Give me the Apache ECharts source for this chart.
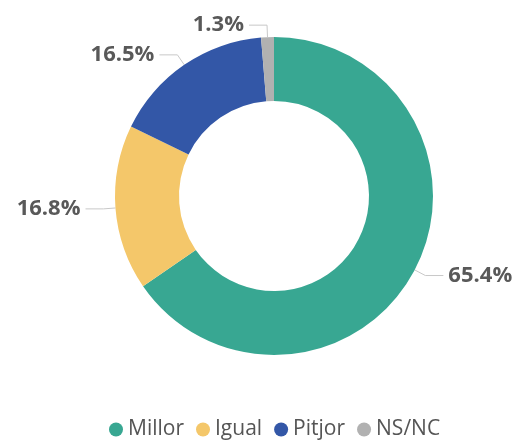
<!DOCTYPE html>
<html>
<head>
<meta charset="utf-8">
<script src="https://cdn.jsdelivr.net/npm/echarts@6/dist/echarts.min.js"></script>
<style>
    html, body { margin: 0; padding: 0; background: #fff; }
    #chart { width: 518px; height: 445px; }
</style>
</head>
<body>
<div id="chart"></div>
<script>
// dades
var categories = ["Millor", "Igual", "Pitjor", "NS/NC"];
var values = [65.4, 16.8, 16.5, 1.3];
var colors = ["#38a792", "#f4c76a", "#3357a7", "#b1b1b1"];

(function() {
    var myChart = echarts.init(document.getElementById("chart"));
    var data = categories.map(function(name, i) {
        return { name: name, value: values[i] };
    });
    var option = {
        color: colors,
        legend: {
            bottom: 0,
            left: 104,
            icon: "circle",
            itemWidth: 14,
            itemHeight: 14,
            itemGap: 12,
            textStyle: {
                fontFamily: "Open Sans",
                fontSize: 21,
                color: "#555"
            }
        },
        series: [{
            type: "pie",
            center: [274, 196],
            radius: [95, 159],
            startAngle: 90,
            clockwise: true,
            avoidLabelOverlap: false,
            data: data,
            label: {
                formatter: function(p) { return p.value.toFixed(1) + "%"; },
                fontFamily: "Open Sans",
                fontWeight: "bold",
                fontSize: 22,
                color: "#595959"
            },
            labelLine: {
                length: 12,
                length2: 18,
                lineStyle: { color: "#c8c8c8", width: 1 }
            }
        }]
    };
    myChart.setOption(option);
})();
</script>
</body>
</html>
